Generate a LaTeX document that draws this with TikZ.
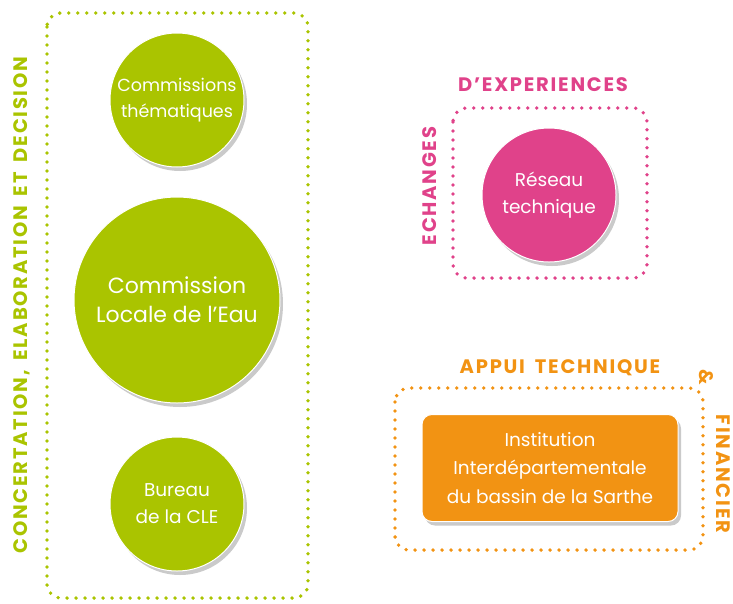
\documentclass[tikz,border=0pt]{standalone}
\usepackage{fontspec}
\setmainfont{Poppins}
\newfontfamily\titlefam{Poppins}[LetterSpace=9,WordSpace=1.7]
\usetikzlibrary{shadows}
\definecolor{cgreen}{RGB}{170,196,0}
\definecolor{cpink}{RGB}{224,66,138}
\definecolor{corange}{RGB}{242,147,19}
\newcommand{\ttl}{\titlefam\bfseries\fontsize{19.5}{22}\selectfont}
\tikzset{
  dotbox/.style={line width=3.8pt, dash pattern=on 0pt off 9pt, line cap=round, rounded corners=14pt},
  bubble/.style={circle, draw=white, line width=1pt, text=white, align=center, inner sep=0pt,
     drop shadow={shadow xshift=3pt, shadow yshift=-4pt, opacity=0.35, fill=black!60}},
  title/.style={font=\ttl, inner sep=0pt},
  ibox/.style={rectangle, rounded corners=10pt, draw=white, line width=1pt, text=white, align=center,
     fill=corange, drop shadow={shadow xshift=3pt, shadow yshift=-4pt, opacity=0.35, fill=black!60}}
}
\begin{document}
\begin{tikzpicture}[x=1pt,y=-1pt]
\useasboundingbox (0,0) rectangle (733,603);
% green group
\draw[dotbox, cgreen] (47,13) rectangle (308,598);
\node[bubble, fill=cgreen, minimum size=134pt, font=\fontsize{17.5}{26}\selectfont] (ct) at (177,100) {Commissions\\th\'ematiques};
\node[bubble, fill=cgreen, minimum size=206pt, font=\fontsize{22}{29}\selectfont] (cle) at (177,300) {Commission\\Locale de l’Eau};
\node[bubble, fill=cgreen, minimum size=134pt, font=\fontsize{18.5}{27}\selectfont] (bur) at (177,504) {Bureau\\de la CLE};
\node[title, text=cgreen, rotate=90] (tg) at (22,305) {CONCERTATION, ELABORATION ET DECISION};
% pink group
\draw[dotbox, cpink] (453,108) rectangle (647,278);
\node[bubble, fill=cpink, minimum size=134pt, font=\fontsize{18.5}{27}\selectfont] (res) at (549,195) {R\'eseau\\technique};
\node[title, text=cpink] (tp1) at (543,85) {D’EXPERIENCES};
\node[title, text=cpink, rotate=90] (tp2) at (430,186) {ECHANGES};
% orange group
\draw[dotbox, corange] (395,388) rectangle (703,550);
\node[ibox, minimum width=256pt, minimum height=107pt, font=\fontsize{18.5}{28.5}\selectfont] (iib) at (550,468) {Institution\\Interd\'epartementale\\du bassin de la Sarthe};
\node[title, text=corange] (to1) at (560,368) {APPUI TECHNIQUE};
\node[title, text=corange, rotate=-90] (to2) at (706,377) {\&};
\node[title, text=corange, rotate=-90] (to3) at (723,474) {FINANCIER};
\end{tikzpicture}
\end{document}
